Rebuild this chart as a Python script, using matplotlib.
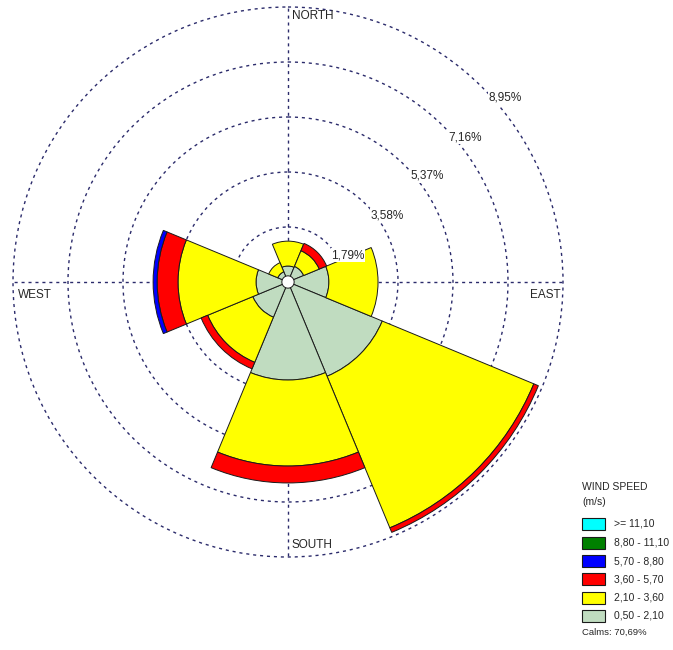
import numpy as np
import matplotlib
matplotlib.use('Agg')
from matplotlib import pyplot as plt
from matplotlib.patches import Rectangle

plt.rcParams['font.family'] = ['Liberation Sans', 'DejaVu Sans']

# wind directions (8 sectors) and frequency (%) per speed class
directions = ['N', 'NE', 'E', 'SE', 'S', 'SW', 'W', 'NW']
dir_deg = [0, 45, 90, 135, 180, 225, 270, 315]
f_050_210 = [0.52, 0.55, 1.33, 3.32, 3.19, 1.24, 1.04, 0.36]
f_210_360 = [0.81, 0.55, 1.60, 5.34, 2.80, 1.59, 2.54, 0.32]
f_360_570 = [0.00, 0.26, 0.00, 0.16, 0.55, 0.23, 0.68, 0.00]
f_570_880 = [0.00, 0.00, 0.00, 0.00, 0.00, 0.00, 0.13, 0.00]
f_880_1110 = [0.00, 0.00, 0.00, 0.00, 0.00, 0.00, 0.00, 0.00]
f_1110 = [0.00, 0.00, 0.00, 0.00, 0.00, 0.00, 0.00, 0.00]

speed_labels = ['0,50 - 2,10', '2,10 - 3,60', '3,60 - 5,70',
                '5,70 - 8,80', '8,80 - 11,10', '>= 11,10']
speed_colors = ['#c0dcc0', '#ffff00', '#ff0000', '#0000ff', '#008000', '#00ffff']
calms = 70.69
rings = [1.79, 3.58, 5.37, 7.16, 8.95]

W, H = 673, 650
fig = plt.figure(figsize=(W / 100, H / 100), dpi=100)

# rose centre (288, 282) px, outer ring radius 275 px (a little margin so
# the last ring is not clipped)
cx, cy = 288, 282
pad = 1.02
R = 275 * pad
ax = fig.add_axes([(cx - R) / W, (H - cy - R) / H, 2 * R / W, 2 * R / H],
                  projection='polar')
ax.set_theta_zero_location('N')
ax.set_theta_direction(-1)
ax.set_ylim(0, rings[-1] * pad)
ax.set_yticks(rings)
ax.set_yticklabels([])
ax.set_xticks([])
ax.tick_params(length=0)
ax.spines['polar'].set_visible(False)
ax.set_axisbelow(True)
grid_kw = dict(color='#2b2b6b', linestyle=(0, (2.2, 2.8)), linewidth=1.0)
ax.yaxis.grid(True, **grid_kw)
# N-S and E-W axes, stopping at the outer ring
for a in [0, 90, 180, 270]:
    ax.plot([np.radians(a)] * 2, [0, rings[-1]], zorder=1, **grid_kw)

theta = np.radians(dir_deg)
width = np.radians(45)
classes = [f_050_210, f_210_360, f_360_570, f_570_880, f_880_1110, f_1110]
bottom = np.zeros(len(directions))
for vals, col in zip(classes, speed_colors):
    vals = np.array(vals)
    m = vals > 0
    if m.any():
        ax.bar(theta[m], vals[m], width=width, bottom=bottom[m], color=col,
               edgecolor='#1a1a1a', linewidth=0.7, zorder=3)
    bottom += vals

# calm circle in the middle
t = np.linspace(0, 2 * np.pi, 100)
ax.fill(t, np.full_like(t, 0.2), facecolor='white', edgecolor='#1a1a1a',
        linewidth=0.7, zorder=5)

# overlay in pixel coordinates for labels and legend
ov = fig.add_axes([0, 0, 1, 1])
ov.set_xlim(0, W)
ov.set_ylim(H, 0)
ov.axis('off')
ov.patch.set_alpha(0)

tc = '#262626'
ov.text(292, 16, 'NORTH', fontsize=8.5, color=tc, va='center', ha='left')
ov.text(18, 295, 'WEST', fontsize=8.5, color=tc, va='center', ha='left')
ov.text(530, 295, 'EAST', fontsize=8.5, color=tc, va='center', ha='left')
ov.text(292, 545, 'SOUTH', fontsize=8.5, color=tc, va='center', ha='left')

ring_pos = [(348, 255), (387, 215), (427, 176), (465, 137), (505, 98)]
for r, (x, y) in zip(rings, ring_pos):
    ov.text(x, y, f'{r:.2f}%'.replace('.', ','), fontsize=8.5, color=tc,
            ha='center', va='center',
            bbox=dict(facecolor='white', edgecolor='none', pad=0.5))

# legend
ov.text(582, 487, 'WIND SPEED', fontsize=7.5, color=tc, va='center')
ov.text(582, 502, '(m/s)', fontsize=7.5, color=tc, va='center')
row_y = [524, 542.5, 561, 579, 597.5, 616]
for y, lab, col in zip(row_y, speed_labels[::-1], speed_colors[::-1]):
    ov.add_patch(Rectangle((582, y - 6), 23, 12, facecolor=col,
                           edgecolor='#1a1a1a', linewidth=0.8))
    ov.text(614, y, lab, fontsize=7.5, color=tc, va='center')
ov.text(582, 632, f'Calms: {calms:.2f}%'.replace('.', ','), fontsize=6.8,
        color=tc, va='center')

fig.savefig('out.png', dpi=100)
